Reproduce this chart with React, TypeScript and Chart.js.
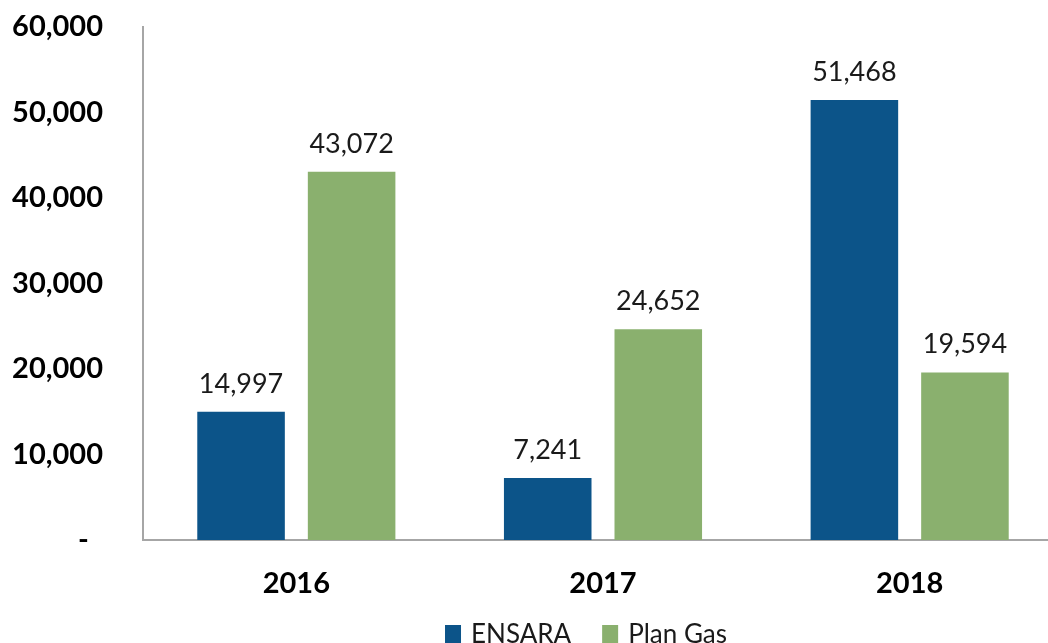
import React, { useEffect, useRef } from "react";
import { Chart, registerables } from "chart.js";

Chart.register(...registerables);

const categories = ["2016", "2017", "2018"];
const ensaraValues = [14997, 7241, 51468];
const planGasValues = [43072, 24652, 19594];
const seriesNames = ["ENSARA", "Plan Gas"];
const seriesColors = ["#0C5489", "#8AB06E"];
const yTicks = [0, 10000, 20000, 30000, 40000, 50000, 60000];

const FONT = "Lato, 'Open Sans', sans-serif";

const fmt = (v: number) => v.toLocaleString("en-US");

const dataLabels = {
  id: "dataLabels",
  afterDatasetsDraw(chart: any) {
    const ctx = chart.ctx;
    ctx.save();
    ctx.font = `27px ${FONT}`;
    ctx.fillStyle = "#1a1a1a";
    ctx.textAlign = "center";
    ctx.textBaseline = "alphabetic";
    chart.data.datasets.forEach((ds: any, i: number) => {
      const meta = chart.getDatasetMeta(i);
      meta.data.forEach((bar: any, j: number) => {
        ctx.fillText(fmt(ds.data[j]), bar.x, bar.y - 19);
      });
    });
    ctx.restore();
  },
};

const customLegend = {
  id: "customLegend",
  afterDraw(chart: any) {
    const ctx = chart.ctx;
    ctx.save();
    ctx.font = `26px ${FONT}`;
    ctx.textBaseline = "alphabetic";
    ctx.textAlign = "left";
    const box = 16;
    const gapText = 10;
    const gapItems = 31;
    const widths = seriesNames.map((n) => box + gapText + ctx.measureText(n).width);
    const total = widths.reduce((a, b) => a + b, 0) + gapItems * (widths.length - 1);
    const centerX = (chart.chartArea.left + chart.chartArea.right) / 2 - 17;
    let x = centerX - total / 2;
    const baseY = 643;
    seriesNames.forEach((n, i) => {
      ctx.fillStyle = seriesColors[i];
      ctx.fillRect(x, baseY - 18, box, box + 4);
      ctx.fillStyle = "#1a1a1a";
      ctx.fillText(n, x + box + gapText, baseY);
      x += widths[i] + gapItems;
    });
    ctx.restore();
  },
};

export default function App() {
  const ref = useRef<HTMLCanvasElement>(null);
  useEffect(() => {
    if (!ref.current) return;
    const chart = new Chart(ref.current, {
      type: "bar",
      data: {
        labels: categories,
        datasets: [
          {
            label: seriesNames[0],
            data: ensaraValues,
            backgroundColor: seriesColors[0],
            categoryPercentage: 0.721,
            barPercentage: 0.792,
          },
          {
            label: seriesNames[1],
            data: planGasValues,
            backgroundColor: seriesColors[1],
            categoryPercentage: 0.721,
            barPercentage: 0.792,
          },
        ],
      },
      options: {
        responsive: false,
        animation: false,
        layout: { padding: { top: 27, left: 0, right: 7, bottom: 60 } },
        plugins: {
          legend: { display: false },
          tooltip: { enabled: false },
        },
        scales: {
          x: {
            grid: { display: false, drawTicks: false },
            border: { display: true, color: "#A6A6A6", width: 2 },
            ticks: {
              font: { family: FONT, size: 29, weight: "bold" },
              color: "#000",
              padding: 26,
            },
            afterFit: (axis: any) => {
              axis.height = 60;
              axis.paddingLeft = 0;
              axis.paddingRight = 0;
            },
          },
          y: {
            min: 0,
            max: 60000,
            afterBuildTicks: (axis: any) => {
              axis.ticks = yTicks.map((v) => ({ value: v }));
            },
            grid: { display: false, drawTicks: false },
            border: { display: true, color: "#A6A6A6", width: 2 },
            ticks: {
              font: { family: FONT, size: 29, weight: "bold" },
              color: "#000",
              padding: 40,
              callback: (v: any) => (Number(v) === 0 ? "-  " : fmt(Number(v))),
            },
            afterFit: (axis: any) => {
              axis.width = 143;
              axis.paddingTop = 0;
              axis.paddingBottom = 0;
            },
          },
        },
      },
      plugins: [dataLabels, customLegend],
    });
    return () => chart.destroy();
  }, []);
  return (
    <div
      style={{
        position: "absolute",
        left: 0,
        top: 0,
        width: 1048,
        height: 643,
        overflow: "hidden",
        background: "#fff",
      }}
    >
      <canvas ref={ref} width={1070} height={660} style={{ display: "block" }} />
    </div>
  );
}
